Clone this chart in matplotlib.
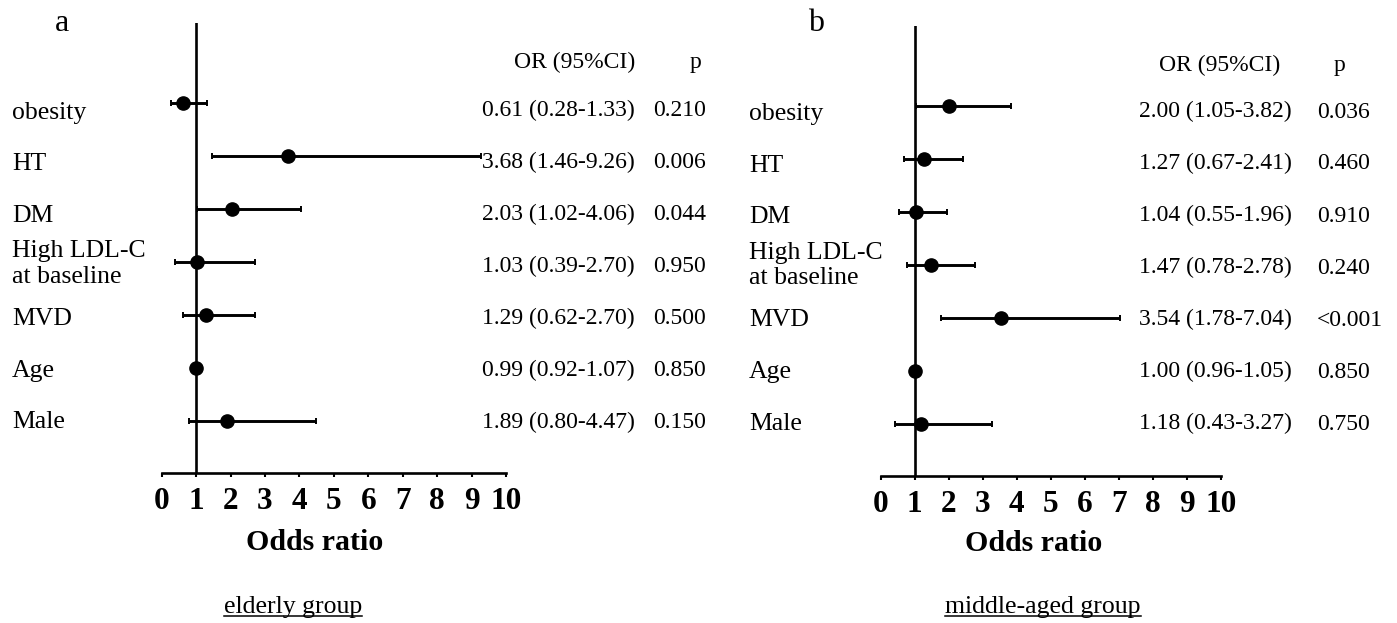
import matplotlib
matplotlib.use("Agg")
import matplotlib.pyplot as plt
from matplotlib.lines import Line2D
import numpy as np

plt.rcParams['font.family'] = ['Liberation Serif', 'DejaVu Serif']

# ---------------- data ----------------
factors = ["obesity", "HT", "DM", "High LDL-C\nat baseline", "MVD", "Age", "Male"]

elderly_or = [0.61, 3.68, 2.03, 1.03, 1.29, 0.99, 1.89]
elderly_lo = [0.28, 1.46, 1.02, 0.39, 0.62, 0.92, 0.80]
elderly_hi = [1.33, 9.26, 4.06, 2.70, 2.70, 1.07, 4.47]
elderly_p = ["0.210", "0.006", "0.044", "0.950", "0.500", "0.850", "0.150"]

middle_or = [2.00, 1.27, 1.04, 1.47, 3.54, 1.00, 1.18]
middle_lo = [1.05, 0.67, 0.55, 0.78, 1.78, 0.96, 0.43]
middle_hi = [3.82, 2.41, 1.96, 2.78, 7.04, 1.05, 3.27]
middle_p = ["0.036", "0.460", "0.910", "0.240", "<0.001", "0.850", "0.750"]

x_ticks = list(range(0, 11))
header_or = "OR (95%CI)"
header_p = "p"
x_label = "Odds ratio"
panel_letters = ["a", "b"]
group_names = ["elderly group", "middle-aged group"]

# ---------------- layout (pixels) ----------------
W, H = 1397, 623
fig = plt.figure(figsize=(W / 100, H / 100), dpi=100)


def fx(px):
    return px / W


def fy(py):
    return 1 - py / H


panels = [
    dict(or_=elderly_or, lo=elderly_lo, hi=elderly_hi, p=elderly_p,
         ax_l=161.7, ax_r=506.0, top=23, bot=473, dy=0,
         lab_x=12, val_r=635, hdr_r=635, p_l=653, p_hdr=695,
         let_x=55, grp_c=293, xl_c=315),
    dict(or_=middle_or, lo=middle_lo, hi=middle_hi, p=middle_p,
         ax_l=880.7, ax_r=1221.0, top=26, bot=476, dy=3,
         lab_x=749, val_r=1292, hdr_r=1280, p_l=1317, p_hdr=1340,
         let_x=808, grp_c=1043, xl_c=1034),
]

group_texts = []
for k, P in enumerate(panels):
    ax = fig.add_axes([fx(P['ax_l']), fy(P['bot']),
                       (P['ax_r'] - P['ax_l']) / W, (P['bot'] - P['top']) / H])
    rows = np.arange(len(factors))
    orv = np.array(P['or_'])
    lo = np.array(P['lo'])
    hi = np.array(P['hi'])
    ax.errorbar(orv, rows, xerr=[orv - lo, hi - orv], fmt='o', color='black',
                ms=9.5, elinewidth=2.1, capsize=2.5, capthick=1.4, zorder=3)
    ax.axvline(1, color='black', lw=1.9, zorder=2)
    ax.set_xlim(0, 10)
    ax.set_ylim(6.99, -1.5)
    for s in ['top', 'right', 'left']:
        ax.spines[s].set_visible(False)
    ax.spines['bottom'].set_linewidth(1.9)
    ax.set_yticks([])
    ax.set_xticks(x_ticks)
    ax.set_xticklabels([str(t) for t in x_ticks], fontsize=22.5, fontweight='bold')
    ax.tick_params(axis='x', direction='out', length=3, width=1.5, pad=7)
    ax.patch.set_alpha(0)

    dy = P['dy']
    # axis title
    fig.text(fx(P['xl_c']), fy(550 + dy * 0.3), x_label, fontsize=21.5,
             fontweight='bold', ha='center', va='baseline')
    # panel letter
    fig.text(fx(P['let_x']), fy(31), panel_letters[k], fontsize=23,
             ha='left', va='baseline')
    # headers
    fig.text(fx(P['hdr_r']), fy(68 + dy), header_or, fontsize=17,
             ha='right', va='baseline')
    fig.text(fx(P['p_hdr']), fy(68 + dy), header_p, fontsize=17,
             ha='center', va='baseline')
    # row labels and values
    for i, name in enumerate(factors):
        lines = name.split("\n")
        base = 119 + 51.5 * i + dy * 0.5
        if len(lines) == 1:
            fig.text(fx(P['lab_x']), fy(base), name, fontsize=18.5,
                     ha='left', va='baseline')
        else:
            for j, ln in enumerate(lines):
                fig.text(fx(P['lab_x']), fy(base - 16.5 + 26 * j), ln,
                         fontsize=18.5, ha='left', va='baseline')
        vbase = 116 + 52 * i + dy * 0.5
        s = f"{P['or_'][i]:.2f} ({P['lo'][i]:.2f}-{P['hi'][i]:.2f})"
        fig.text(fx(P['val_r']), fy(vbase), s, fontsize=17,
                 ha='right', va='baseline')
        fig.text(fx(P['p_l']), fy(vbase), P['p'][i], fontsize=17,
                 ha='left', va='baseline')
    # group name (underlined)
    t = fig.text(fx(P['grp_c']), fy(613), group_names[k], fontsize=18.5,
                 ha='center', va='baseline')
    group_texts.append(t)

fig.canvas.draw()
renderer = fig.canvas.get_renderer()
for t in group_texts:
    bb = t.get_window_extent(renderer=renderer)
    y = fy(615.5)
    fig.add_artist(Line2D([bb.x0 / W, bb.x1 / W], [y, y], color='black',
                          lw=1.1, transform=fig.transFigure))

fig.savefig("out.png", dpi=100)
